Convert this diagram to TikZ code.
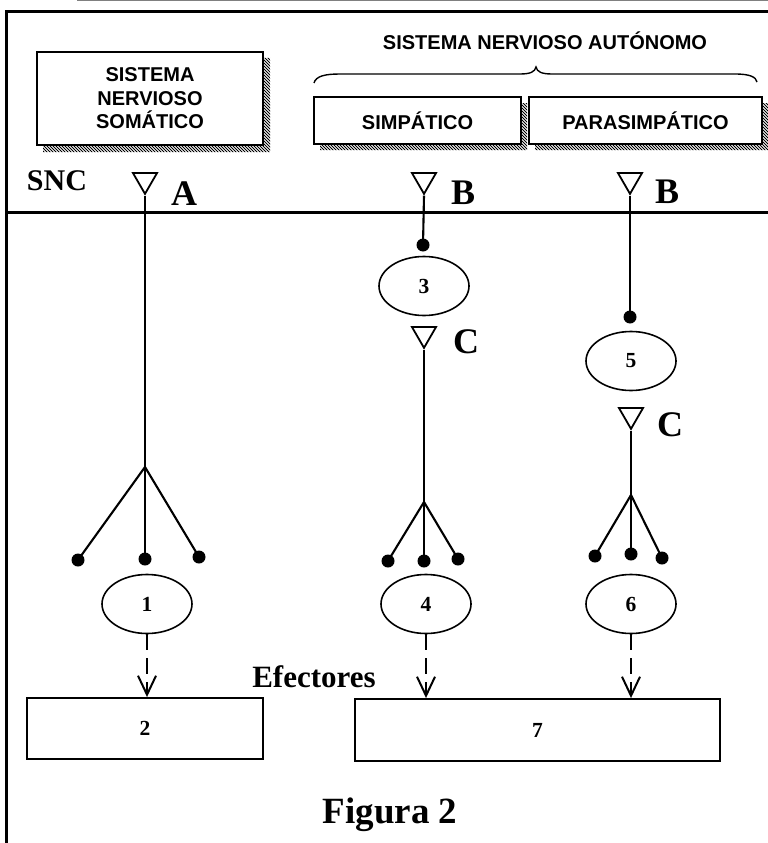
\documentclass[tikz,border=0pt]{standalone}
\usepackage{fontspec}
\setmainfont{Liberation Serif}
\newfontfamily\arialfont{Liberation Sans}
\usetikzlibrary{shapes.geometric,arrows.meta}
\begin{document}
\begin{tikzpicture}[x=1pt,y=-1pt,
  frame/.style={line width=3pt},
  sysbox/.style={draw, line width=1.9pt, fill=white, inner sep=0pt, align=center,
    font=\arialfont\bfseries\fontsize{20}{23.5}\selectfont},
  ell/.style={draw, ellipse, line width=1.6pt, minimum width=90pt, minimum height=59pt,
    inner sep=0pt, font=\bfseries\fontsize{21.5}{21.5}\selectfont},
  dot/.style={circle, fill, inner sep=0pt, minimum size=13pt},
  tri/.style={draw, regular polygon, regular polygon sides=3, shape border rotate=180,
    minimum size=27.7pt, inner sep=0pt, line width=1.8pt},
  nerve/.style={line width=2.1pt},
  letter/.style={inner sep=0pt, font=\bfseries\fontsize{36}{36}\selectfont},
  effbox/.style={draw, line width=1.9pt, inner sep=0pt, font=\bfseries\fontsize{21.5}{21.5}\selectfont},
  effarrow/.style={line width=2pt, dash pattern=on 16pt off 8pt,
    -{Straight Barb[length=19pt,width=18pt]}}
]
\useasboundingbox (0,0) rectangle (768,843);

% outer lines
\draw[gray, line width=0.8pt] (77,0.6) -- (768,0.6);
\draw[frame] (768,12) -- (6,12) -- (6,843);
\draw[frame] (6,212) -- (768,212);

% hatched shadows
\begin{scope}
  \clip (263,58) rectangle (270,152)
        (43,145) rectangle (270,152)
        (521,103) rectangle (527,150)
        (320,144) rectangle (527,150)
        (762,103) rectangle (768,150)
        (535,144) rectangle (768,150);
  \foreach \c in {-120,-117,...,720}
    \draw[line width=0.8pt] (\c+40,40) -- (\c+170,170);
\end{scope}

% system boxes
\node[sysbox, minimum width=226pt, minimum height=93pt] (som) at (150,98.5)
  {SISTEMA\\NERVIOSO\\SOM\'ATICO};
\node[sysbox, minimum width=207pt, minimum height=47pt] (simp) at (417.5,120.5) {SIMP\'ATICO};
\node[sysbox, minimum width=233pt, minimum height=47pt] (para) at (645.5,120.5) {PARASIMP\'ATICO};

\node[inner sep=0pt, font=\arialfont\bfseries\fontsize{20}{20}\selectfont] (sna) at (545,41)
  {SISTEMA NERVIOSO AUT\'ONOMO};
\draw[line width=1.4pt] (314,83) .. controls (316,76) and (325,74) .. (340,74) -- (520,74)
  .. controls (530,74) and (535,72) .. (536,67)
  .. controls (537,72) and (542,74) .. (552,74) -- (735,74)
  .. controls (750,74) and (756,77) .. (757,82);

\node[inner sep=0pt, font=\bfseries\fontsize{30}{30}\selectfont] (snc) at (57,181) {SNC};

% triangles and labels
\node[tri] (tA) at (145,180) {};
\node[tri] (tB1) at (424,180) {};
\node[tri] (tB2) at (630,180) {};
\node[tri] (tC1) at (424,334) {};
\node[tri] (tC2) at (631,415) {};
\node[letter] (lA) at (184,194) {A};
\node[letter] (lB1) at (463,193) {B};
\node[letter] (lB2) at (667,192) {B};
\node[letter] (lC1) at (466,342) {C};
\node[letter] (lC2) at (670,425) {C};

% somatic column
\coordinate (brA) at (145,467);
\node[dot] (dA1) at (78,560) {};
\node[dot] (dA2) at (145,559) {};
\node[dot] (dA3) at (199,557) {};
\draw[nerve] (tA.corner 1) -- (brA);
\draw[nerve] (brA) -- (dA1.center);
\draw[nerve] (brA) -- (dA2.center);
\draw[nerve] (brA) -- (dA3.center);
\node[ell] (e1) at (147,604) {1};

% sympathetic column
\node[dot] (d3) at (423,245) {};
\draw[nerve] (tB1.corner 1) -- (d3.center);
\node[ell] (e3) at (424,286) {3};
\coordinate (brB) at (424,502);
\node[dot] (dB1) at (388,561) {};
\node[dot] (dB2) at (424,561) {};
\node[dot] (dB3) at (458,559) {};
\draw[nerve] (tC1.corner 1) -- (brB);
\draw[nerve] (brB) -- (dB1.center);
\draw[nerve] (brB) -- (dB2.center);
\draw[nerve] (brB) -- (dB3.center);
\node[ell] (e4) at (426,604) {4};

% parasympathetic column
\node[dot] (d5) at (630,317) {};
\draw[nerve] (tB2.corner 1) -- (d5.center);
\node[ell] (e5) at (631,361) {5};
\coordinate (brC) at (631,495);
\node[dot] (dC1) at (595,556) {};
\node[dot] (dC2) at (631,554) {};
\node[dot] (dC3) at (662,558) {};
\draw[nerve] (tC2.corner 1) -- (brC);
\draw[nerve] (brC) -- (dC1.center);
\draw[nerve] (brC) -- (dC2.center);
\draw[nerve] (brC) -- (dC3.center);
\node[ell] (e6) at (631,604) {6};

% effectors
\node[effbox, minimum width=236pt, minimum height=61pt] (b2) at (145,728.5) {2};
\node[effbox, minimum width=365pt, minimum height=62pt] (b7) at (537.5,730) {7};
\node[inner sep=0pt, font=\bfseries\fontsize{31}{31}\selectfont] (eff) at (314,677) {Efectores};
\draw[effarrow] (e1.south) -- (e1.south |- b2.north);
\draw[effarrow] (e4.south) -- (e4.south |- b7.north);
\draw[effarrow] (e6.south) -- (e6.south |- b7.north);

\node[anchor=base, inner sep=0pt, font=\bfseries\fontsize{37}{37}\selectfont] (fig) at (390,823) {Figura 2};
\end{tikzpicture}
\end{document}
